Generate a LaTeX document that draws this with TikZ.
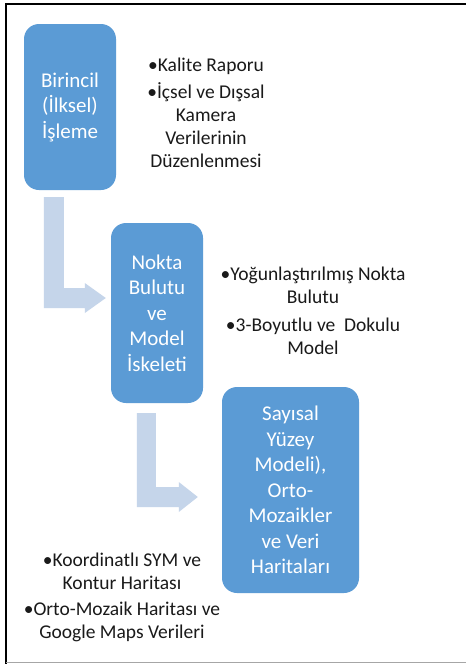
\documentclass[tikz,border=0pt]{standalone}
\usepackage{fontspec}
\setmainfont{Carlito}
\usetikzlibrary{calc}
\definecolor{boxblue}{HTML}{5B9BD5}
\definecolor{arrblue}{HTML}{C5D5EA}
\definecolor{txt}{HTML}{1A1A1A}
\tikzset{
  box/.style={fill=boxblue, rounded corners=15pt, text=white, align=center,
    inner sep=0pt, font=\fontsize{21}{25.5}\selectfont},
  side/.style={text=txt, align=center, inner sep=0pt,
    font=\fontsize{19.5}{23}\selectfont},
  bentarrow/.style={fill=arrblue, draw=none}
}
\begin{document}
\begin{tikzpicture}[x=1pt,y=-1pt]
\useasboundingbox (0,0) rectangle (466,664);
\fill[white] (0,0) rectangle (466,664);
% frame
\draw[black, line width=2.4pt] (6.2,664) -- (6.2,4) -- (466,4);
\draw[gray!70, line width=1.4pt] (6.2,662.5) -- (466,662.5);
% boxes
\node[box, minimum width=92pt, minimum height=166pt] (b1) at (70,107)
  {Birincil\\(İlksel)\\İşleme};
\node[box, minimum width=92pt, minimum height=180pt] (b2) at (157,313)
  {Nokta\\Bulutu\\ve\\Model\\İskeleti};
\node[box, minimum width=137pt, minimum height=206pt] (b3) at (290.5,490)
  {Sayısal\\Yüzey\\Modeli),\\Orto-\\Mozaikler\\ve Veri\\Haritaları};
% side texts
\node[side] (t1) at (206,113)
  {•Kalite Raporu\\[4pt]•İçsel ve Dışsal\\Kamera\\Verilerinin\\Düzenlenmesi};
\node[side] (t2) at (313,311)
  {•Yoğunlaştırılmış Nokta\\Bulutu\\[5pt]•3-Boyutlu ve\ \ Dokulu\\Model};
\node[side] (t3) at (122,597)
  {•Koordinatlı SYM ve\\Kontur Haritası\\[3pt]•Orto-Mozaik Haritası ve\\Google Maps Verileri};
% bent arrows
\coordinate (a1s) at ($(b1.south west)+(20,7)$);
\coordinate (a1t) at ($(b2.west)+(-5,-15)$);
\fill[bentarrow] (a1s) -- ++(20,0) |- ($(a1t)+(-21,-10)$) -- ++(0,-5)
  -- (a1t) -- ($(a1t)+(-21,15)$) -- ++(0,-5) -| (a1s) -- cycle;
\coordinate (a2s) at ($(b2.south west)+(26,10)$);
\coordinate (a2t) at ($(b3.west)+(-24,7)$);
\fill[bentarrow] (a2s) -- ++(19,0) |- ($(a2t)+(-19,-10)$) -- ++(0,-5)
  -- (a2t) -- ($(a2t)+(-19,15)$) -- ++(0,-5) -| (a2s) -- cycle;
\end{tikzpicture}
\end{document}
